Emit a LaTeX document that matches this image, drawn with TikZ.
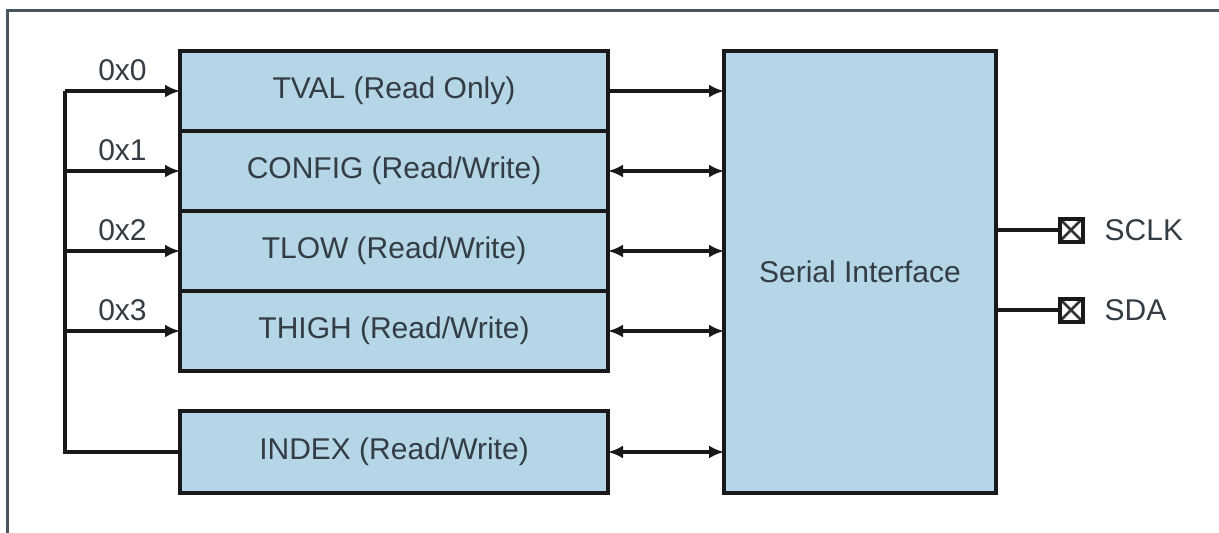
\documentclass[tikz,border=0pt]{standalone}
\usepackage{fontspec}
\setmainfont{Liberation Sans}
\usetikzlibrary{positioning,arrows.meta}
\definecolor{regblue}{RGB}{180,214,230}
\definecolor{txtgray}{RGB}{52,60,68}
\definecolor{framegray}{RGB}{72,84,95}
\tikzset{
  reg/.style={draw=black!90, fill=regblue, line width=4pt, minimum width=428pt,
    minimum height=80pt, inner sep=0pt, outer sep=0pt, text=txtgray,
    font=\fontsize{30}{36}\selectfont},
  lbl/.style={inner sep=0pt, text=txtgray, font=\fontsize{30}{36}\selectfont},
  wire/.style={line width=3.5pt, black!90},
  onearrow/.style={-{Latex[length=15pt,width=13pt]}},
  twoarrow/.style={{Latex[length=15pt,width=13pt]}-{Latex[length=15pt,width=13pt]}},
  padbox/.style={draw=black!90, fill=white, line width=4pt, minimum size=23pt,
    inner sep=0pt, outer sep=0pt,
    path picture={\draw[line width=2.5pt, black!80]
      (path picture bounding box.north west) -- (path picture bounding box.south east)
      (path picture bounding box.north east) -- (path picture bounding box.south west);}},
}
\begin{document}
\begin{tikzpicture}[x=1pt,y=-1pt]
\useasboundingbox (0,0) rectangle (1219,533);
% frame
\draw[framegray, line width=3pt] (7,533) -- (7,10) -- (1219,10);
% registers
\node[reg] (tval) at (394,91) {TVAL (Read Only)};
\node[reg, below=0pt of tval] (config) {CONFIG (Read/Write)};
\node[reg, below=0pt of config] (tlow) {TLOW (Read/Write)};
\node[reg, below=0pt of tlow] (thigh) {THIGH (Read/Write)};
\node[reg, minimum height=82pt] (index) at (394,452) {INDEX (Read/Write)};
\node[reg, minimum width=272pt, minimum height=442pt] (serial) at (860,272) {Serial Interface};
% address bus
\coordinate (bus) at (65,0);
\foreach \r/\a in {tval/0, config/1, tlow/2, thigh/3}
  \draw[wire, onearrow] (bus |- \r.west) -- (\r.west) node[midway, above=8pt, lbl] {0x\a};
\draw[wire] (bus |- tval.west) -- (bus |- index.west) -- (index.west);
% data paths
\draw[wire, onearrow] (tval.east) -- (serial.west |- tval.east);
\foreach \r in {config, tlow, thigh, index}
  \draw[wire, twoarrow] (\r.east) -- (serial.west |- \r.east);
% pins
\node[padbox] (sclk) at (1071,230) {};
\node[padbox] (sda) at (1071,310) {};
\draw[wire] (serial.east |- sclk) -- (sclk);
\draw[wire] (serial.east |- sda) -- (sda);
\node[lbl, right=22pt of sclk] (sclklbl) {SCLK};
\node[lbl, right=22pt of sda] (sdalbl) {SDA};
\end{tikzpicture}
\end{document}
